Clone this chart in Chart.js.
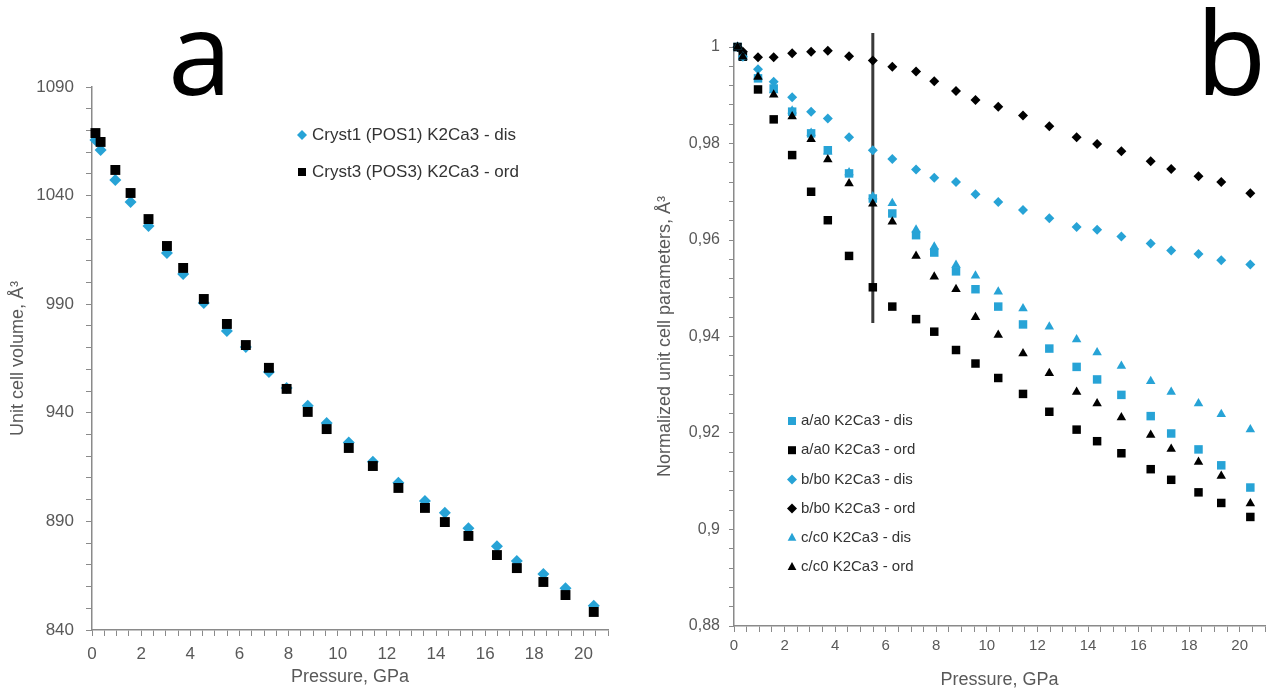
<!DOCTYPE html>
<html>
<head>
<meta charset="utf-8">
<script src="https://cdn.jsdelivr.net/npm/chart.js@4.4.1/dist/chart.umd.min.js"></script>
<style>
    html, body { margin: 0; padding: 0; background: #fff; }
    #wrap { position: relative; width: 1272px; height: 695px; overflow: hidden; }
    .panel { position: absolute; top: 0; width: 636px; height: 695px; }
    .letra { position: absolute; font-family: 'Open Sans', sans-serif; font-size: 115px;
        line-height: 115px; color: #000; }
</style>
</head>
<body>
<div id="wrap">
    <div class="panel" style="left:0"><canvas id="grafica_a" width="636" height="695"></canvas></div>
    <div class="panel" style="left:636px"><canvas id="grafica_b" width="636" height="695"></canvas></div>
    <div class="letra" style="left:168px;top:-7px">a</div>
    <div class="letra" style="left:1196px;top:-7px">b</div>
</div>
<script>
// Presion (GPa), comun a las dos graficas.
var presion = [0.14, 0.35, 0.95, 1.57, 2.3, 3.05, 3.71, 4.55, 5.49, 6.26, 7.2, 7.92,
    8.78, 9.55, 10.45, 11.43, 12.47, 13.55, 14.36, 15.32, 16.48, 17.29, 18.37, 19.27, 20.42];

// Grafica a: volumen de celda (A^3).
var volDis = [1065.6, 1061.0, 1047.2, 1037.1, 1026.0, 1013.6, 1003.9, 990.6, 977.7, 970.3,
    958.8, 951.4, 943.2, 935.3, 926.3, 917.5, 907.8, 899.4, 894.0, 886.8, 878.6, 871.8,
    865.8, 859.2, 851.2];
var volOrd = [1068.8, 1064.7, 1051.8, 1041.2, 1029.2, 1016.8, 1006.7, 992.4, 980.9, 971.2,
    960.7, 951.0, 940.4, 932.5, 923.8, 915.5, 905.4, 896.2, 889.7, 883.3, 874.5, 868.5,
    862.1, 856.1, 848.3];
var etiquetasA = ['Cryst1 (POS1) K2Ca3 - dis', 'Cryst3 (POS3) K2Ca3 - ord'];

// Grafica b: parametros de celda normalizados.
var aDis = [1.0, 0.998, 0.9935, 0.9914, 0.9866, 0.9821, 0.9786, 0.9738, 0.9686, 0.9655,
    0.9610, 0.9574, 0.9535, 0.9498, 0.9462, 0.9425, 0.9375, 0.9337, 0.9311, 0.9279,
    0.9235, 0.9199, 0.9166, 0.9133, 0.9087];
var aOrd = [1.0, 0.998, 0.9912, 0.9850, 0.9776, 0.9700, 0.9641, 0.9567, 0.9502, 0.9462,
    0.9436, 0.9410, 0.9372, 0.9344, 0.9314, 0.9281, 0.9244, 0.9207, 0.9183, 0.9158,
    0.9125, 0.9103, 0.9077, 0.9055, 0.9026];
var bDis = [1.0, 0.998, 0.9954, 0.9928, 0.9896, 0.9866, 0.9852, 0.9813, 0.9786, 0.9768,
    0.9746, 0.9729, 0.9720, 0.9695, 0.9679, 0.9662, 0.9645, 0.9627, 0.9621, 0.9607,
    0.9593, 0.9578, 0.9571, 0.9558, 0.9549];
var bOrd = [1.0, 0.999, 0.9979, 0.9979, 0.9987, 0.9990, 0.9992, 0.9981, 0.9972, 0.9959,
    0.9949, 0.9929, 0.9909, 0.9890, 0.9876, 0.9858, 0.9836, 0.9813, 0.9799, 0.9784,
    0.9763, 0.9747, 0.9732, 0.9720, 0.9697];
var cDis = [1.0, 0.998, 0.9940, 0.9910, 0.9868, 0.9822, 0.9783, 0.9740, 0.9690, 0.9676,
    0.9621, 0.9586, 0.9548, 0.9526, 0.9493, 0.9458, 0.9420, 0.9394, 0.9367, 0.9339,
    0.9307, 0.9285, 0.9261, 0.9239, 0.9207];
var cOrd = [1.0, 0.998, 0.9938, 0.9901, 0.9856, 0.9809, 0.9767, 0.9717, 0.9675, 0.9638,
    0.9567, 0.9524, 0.9498, 0.9440, 0.9403, 0.9365, 0.9324, 0.9285, 0.9261, 0.9232,
    0.9196, 0.9167, 0.9140, 0.9111, 0.9054];
var etiquetasB = ['a/a0 K2Ca3 - dis', 'a/a0 K2Ca3 - ord', 'b/b0 K2Ca3 - dis',
    'b/b0 K2Ca3 - ord', 'c/c0 K2Ca3 - dis', 'c/c0 K2Ca3 - ord'];

// Linea vertical de la transicion (presion y extremos).
var transicionP = 5.49;
var transicionY = [1.0029, 0.9428];

var azul = '#27a3d6';
var negro = '#000000';
var gris = '#595959';
var grisEje = '#8a8a8a';
var fuente = "'Liberation Sans', Arial, sans-serif";

// Convierte una lista de valores en puntos {x, y} sobre la presion.
function puntos(valores) {
    return valores.map(function (v, i) {
        return { x: presion[i], y: v };
    });
}

// Dataset de marcadores sin linea.
function serie(label, valores, estilo, color, radio, orden) {
    return {
        label: label,
        data: puntos(valores),
        pointStyle: estilo,
        backgroundColor: color,
        borderColor: color,
        pointBorderWidth: 0,
        pointRadius: radio,
        pointHoverRadius: radio,
        showLine: false,
        clip: false,
        order: orden
    };
}

// Dibuja un marcador de la leyenda.
function dibujarMarca(ctx, estilo, x, y, r, color) {
    ctx.fillStyle = color;
    ctx.beginPath();
    if (estilo === 'rect') {
        var s = r * 0.8;
        ctx.rect(x - s, y - s, 2 * s, 2 * s);
    } else if (estilo === 'rectRot') {
        ctx.moveTo(x, y - r);
        ctx.lineTo(x + r, y);
        ctx.lineTo(x, y + r);
        ctx.lineTo(x - r, y);
        ctx.closePath();
    } else {
        ctx.moveTo(x, y - r);
        ctx.lineTo(x + r * 0.87, y + r * 0.6);
        ctx.lineTo(x - r * 0.87, y + r * 0.6);
        ctx.closePath();
    }
    ctx.fill();
}

// Leyenda propia, dibujada dentro del area de la grafica.
var leyendaPlugin = {
    id: 'leyenda',
    afterDraw: function (chart, args, opts) {
        if (!opts.items) return;
        var ctx = chart.ctx;
        ctx.save();
        ctx.font = opts.font;
        ctx.textBaseline = 'middle';
        opts.items.forEach(function (idx, k) {
            var ds = chart.data.datasets[idx];
            var y = opts.y + k * opts.dy;
            dibujarMarca(ctx, ds.pointStyle, opts.x, y, opts.radio, ds.backgroundColor);
            ctx.fillStyle = '#333';
            ctx.fillText(ds.label, opts.x + opts.gap, y);
        });
        ctx.restore();
    }
};

// Eje x de presion, igual para las dos graficas.
function ejeX(tamTick, padTick, padTitulo, alto) {
    return {
        type: 'linear', min: 0, max: 21,
        ticks: {
            stepSize: 0.5, autoSkip: false, maxRotation: 0, color: gris,
            padding: padTick, font: { family: fuente, size: tamTick },
            callback: function (v) { return v % 2 === 0 ? v : ''; }
        },
        grid: { drawOnChartArea: false, tickLength: 6, tickColor: grisEje },
        border: { color: grisEje, width: 1.5 },
        title: {
            display: true, text: 'Pressure, GPa', color: gris,
            font: { family: fuente, size: 18 }, padding: { top: 0, bottom: padTitulo }
        },
        afterFit: function (s) { s.height = alto; }
    };
}

function crearGraficaA() {
    var ds = [
        serie(etiquetasA[0], volDis, 'rectRot', azul, 6, 2),
        serie(etiquetasA[1], volOrd, 'rect', negro, 7, 1)
    ];
    new Chart(document.getElementById('grafica_a'), {
        type: 'scatter',
        data: { datasets: ds },
        plugins: [leyendaPlugin],
        options: {
            responsive: false, animation: false,
            layout: { padding: { top: 87, right: 28, left: 0, bottom: 0 } },
            plugins: {
                legend: { display: false }, tooltip: { enabled: false },
                leyenda: { items: [0, 1], x: 302, y: 135, dy: 37, radio: 5, gap: 10,
                    font: '17px ' + fuente }
            },
            scales: {
                x: ejeX(17, 8, 7, 65),
                y: {
                    type: 'linear', min: 840, max: 1090,
                    ticks: {
                        stepSize: 10, autoSkip: false, color: gris, padding: 12,
                        font: { family: fuente, size: 17 },
                        callback: function (v) { return (v - 840) % 50 === 0 ? v : ''; }
                    },
                    grid: { drawOnChartArea: false, tickLength: 6, tickColor: grisEje },
                    border: { color: grisEje, width: 1.5 },
                    title: {
                        display: true, text: 'Unit cell volume, Å³', color: gris,
                        font: { family: fuente, size: 18 }, padding: { top: 7, bottom: 0 }
                    },
                    afterFit: function (s) { s.width = 92; }
                }
            }
        }
    });
}

function crearGraficaB() {
    var ds = [
        serie(etiquetasB[0], aDis, 'rect', azul, 6, 6),
        serie(etiquetasB[1], aOrd, 'rect', negro, 6, 5),
        serie(etiquetasB[2], bDis, 'rectRot', azul, 5, 4),
        serie(etiquetasB[3], bOrd, 'rectRot', negro, 5, 3),
        serie(etiquetasB[4], cDis, 'triangle', azul, 5.5, 2),
        serie(etiquetasB[5], cOrd, 'triangle', negro, 5.5, 1),
        {
            label: 'transicion',
            data: [{ x: transicionP, y: transicionY[0] }, { x: transicionP, y: transicionY[1] }],
            showLine: true, borderColor: '#3a3a3a', borderWidth: 3,
            pointRadius: 0, clip: false, order: 10
        }
    ];
    new Chart(document.getElementById('grafica_b'), {
        type: 'scatter',
        data: { datasets: ds },
        plugins: [leyendaPlugin],
        options: {
            responsive: false, animation: false,
            layout: { padding: { top: 47, right: 7, left: 0, bottom: 0 } },
            plugins: {
                legend: { display: false }, tooltip: { enabled: false },
                leyenda: { items: [0, 1, 2, 3, 4, 5], x: 156, y: 421, dy: 29.2, radio: 5,
                    gap: 9, font: '15px ' + fuente }
            },
            scales: {
                x: ejeX(15, 5, 4, 69),
                y: {
                    type: 'linear', min: 0.88, max: 1,
                    ticks: {
                        stepSize: 0.004, autoSkip: false, color: gris, padding: 9,
                        font: { family: fuente, size: 16 },
                        callback: function (v) {
                            if (Math.abs(v * 50 - Math.round(v * 50)) > 1e-6) return '';
                            return String(+v.toFixed(2)).replace('.', ',');
                        }
                    },
                    grid: { drawOnChartArea: false, tickLength: 5, tickColor: grisEje },
                    border: { color: grisEje, width: 1.5 },
                    title: {
                        display: true, text: 'Normalized unit cell parameters, Å³', color: gris,
                        font: { family: fuente, size: 18 }, padding: { top: 18, bottom: 0 }
                    },
                    afterFit: function (s) { s.width = 98; }
                }
            }
        }
    });
}

crearGraficaA();
crearGraficaB();
</script>
</body>
</html>
